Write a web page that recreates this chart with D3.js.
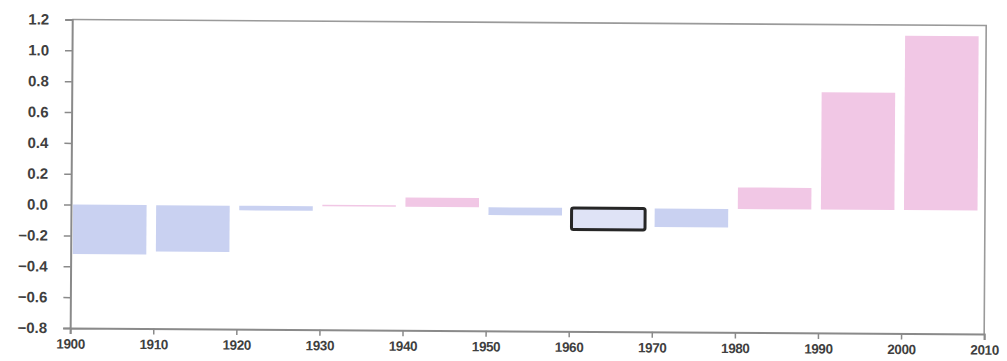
<!DOCTYPE html>
<html><head><meta charset="utf-8">
<script src="https://cdn.jsdelivr.net/npm/d3@7"></script>
<style>
html,body{margin:0;padding:0;background:#fff;}
svg{display:block;}
.tick text{font-family:"Liberation Sans",Arial,sans-serif;font-weight:bold;fill:#3f3f3f;}
</style></head>
<body>
<svg id="chart" width="1007" height="361"></svg>
<script>
const decades = [1900,1910,1920,1930,1940,1950,1960,1970,1980,1990,2000];
const anomalies = [-0.32,-0.30,-0.03,0.01,0.06,-0.05,-0.14,-0.12,0.14,0.76,1.13];
const highlighted = [1960];
const xTicks = [1900,1910,1920,1930,1940,1950,1960,1970,1980,1990,2000,2010];
const yTicks = [-0.8,-0.6,-0.4,-0.2,0.0,0.2,0.4,0.6,0.8,1.0,1.2];

const svg = d3.select("#chart");
const L = 71, R = 985, T = 19.5, B = 328;
const x = d3.scaleLinear().domain([1900,2010]).range([L,R]);
const y = d3.scaleLinear().domain([-0.8,1.2]).range([B,T]);

const g = svg.append("g").attr("transform",`rotate(0.38,${L},${y(0)})`);

const data = decades.map((d,i)=>({year:d,v:anomalies[i],hl:highlighted.includes(d)}));

// frame top/right
g.append("path")
  .attr("d",`M${L},${y(1.2)}H${R}V${y(-0.8)}`)
  .attr("fill","none").attr("stroke","#9a9a9a").attr("stroke-width",1.6);

// bars
g.selectAll("rect.bar").data(data).join("rect")
  .attr("class","bar")
  .attr("x",d=>x(d.year+0.25))
  .attr("width",d=>x(d.year+9.1)-x(d.year+0.25))
  .attr("y",d=>y(Math.max(0,d.v)))
  .attr("height",d=>Math.abs(y(d.v)-y(0)))
  .attr("fill",d=>d.hl?"#dfe3f6":(d.v>=0?"#f1c7e5":"#c9d1f1"))
  .attr("stroke",d=>d.hl?"#262626":"none")
  .attr("stroke-width",d=>d.hl?3:0)
  .attr("rx",d=>d.hl?2:0);

// axes
const yAxis = g.append("g").attr("transform",`translate(${L},0)`)
  .call(d3.axisLeft(y).tickValues(yTicks).tickFormat(d3.format(".1f")).tickSize(7).tickPadding(16));
yAxis.selectAll(".tick text").attr("font-size",15).text(d=>d3.format(".1f")(d).replace("-","\u2212"));
yAxis.select(".domain").attr("stroke","#8a8a8a").attr("stroke-width",2);
yAxis.selectAll(".tick line").attr("stroke","#8a8a8a").attr("stroke-width",1.5);

const xAxis = g.append("g").attr("transform",`translate(0,${B})`)
  .call(d3.axisBottom(x).tickValues(xTicks).tickFormat(d3.format("d")).tickSize(6).tickPadding(5));
xAxis.selectAll(".tick text").attr("font-size",13.5).attr("letter-spacing","-0.4");
xAxis.select(".domain").attr("stroke","#8a8a8a").attr("stroke-width",2);
xAxis.selectAll(".tick line").attr("stroke","#8a8a8a").attr("stroke-width",1.5);
</script>
</body></html>
